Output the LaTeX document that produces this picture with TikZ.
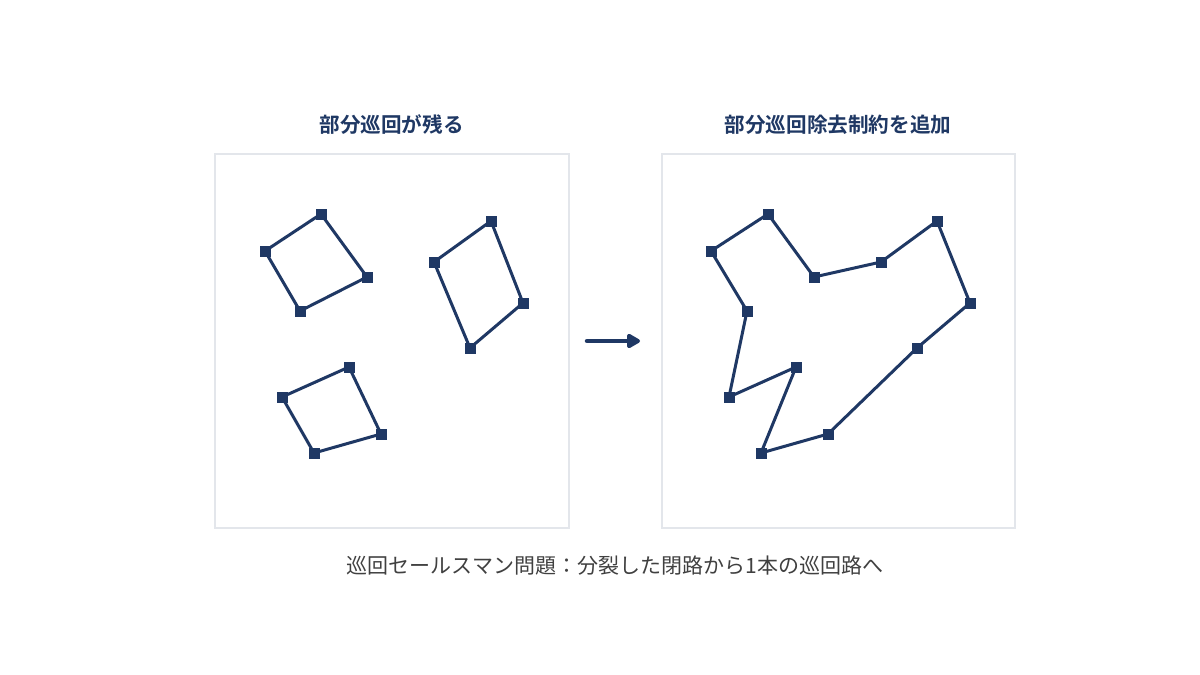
\documentclass[tikz,border=0pt]{standalone}
\usepackage{fontspec}
\setmainfont{Noto Sans CJK JP}
\newfontfamily\jpb{Noto Sans CJK JP Bold}
\usetikzlibrary{arrows.meta}
\definecolor{navy}{HTML}{1F3864}
\definecolor{panel}{HTML}{E3E6EB}
\definecolor{captxt}{HTML}{404040}
\tikzset{
  pt/.style={fill=navy, minimum size=11pt, inner sep=0pt, outer sep=0pt},
  tourline/.style={draw=navy, line width=3pt, line join=round},
  panelbox/.style={draw=panel, line width=2pt, fill=white},
  ttl/.style={text=navy, font=\jpb\fontsize{20.6}{24}\selectfont, anchor=center},
  captext/.style={text=captxt, font=\fontsize{21}{25}\selectfont, anchor=center}
}
\begin{document}
\begin{tikzpicture}[x=1pt,y=-1pt]
\useasboundingbox (0,0) rectangle (1200,675);
\fill[white] (0,0) rectangle (1200,675);
% panels
\draw[panelbox] (215,154) rectangle (569,528);
\draw[panelbox] (662,154) rectangle (1015,528);
% titles
\node[ttl] (t1) at (391.5,125) {部分巡回が残る};
\node[ttl] (t2) at (838,125) {部分巡回除去制約を追加};
% left nodes
\node[pt] (a1) at (265,251) {};
\node[pt] (a2) at (321,214) {};
\node[pt] (a3) at (367,277) {};
\node[pt] (a4) at (300,311) {};
\node[pt] (b1) at (434,262) {};
\node[pt] (b2) at (491,221) {};
\node[pt] (b3) at (523,303) {};
\node[pt] (b4) at (470,348) {};
\node[pt] (c1) at (282,397) {};
\node[pt] (c2) at (349,367) {};
\node[pt] (c3) at (381,434) {};
\node[pt] (c4) at (314,453) {};
\draw[tourline] (a1.center) -- (a2.center) -- (a3.center) -- (a4.center) -- cycle;
\draw[tourline] (b1.center) -- (b2.center) -- (b3.center) -- (b4.center) -- cycle;
\draw[tourline] (c1.center) -- (c2.center) -- (c3.center) -- (c4.center) -- cycle;
% right nodes
\node[pt] (r1) at (711,251) {};
\node[pt] (r2) at (768,214) {};
\node[pt] (r3) at (814,277) {};
\node[pt] (r4) at (747,311) {};
\node[pt] (s1) at (881,262) {};
\node[pt] (s2) at (937,221) {};
\node[pt] (s3) at (970,303) {};
\node[pt] (s4) at (917,348) {};
\node[pt] (u1) at (729,397) {};
\node[pt] (u2) at (796,367) {};
\node[pt] (u3) at (828,434) {};
\node[pt] (u4) at (761,453) {};
\draw[tourline] (r1.center) -- (r2.center) -- (r3.center) -- (s1.center) -- (s2.center) -- (s3.center) -- (s4.center) -- (u3.center) -- (u4.center) -- (u2.center) -- (u1.center) -- (r4.center) -- cycle;
% squares on top
\foreach \n in {a1,a2,a3,a4,b1,b2,b3,b4,c1,c2,c3,c4,r1,r2,r3,r4,s1,s2,s3,s4,u1,u2,u3,u4}
  \fill[navy] ([xshift=-5.5pt,yshift=5.5pt]\n.center) rectangle ([xshift=5.5pt,yshift=-5.5pt]\n.center);
% arrow
\coordinate (arS) at (587,341);
\coordinate (arE) at (640,341);
\draw[navy, line width=4.5pt, line cap=round, -{Triangle[length=15pt,width=16pt,round]}] (arS) -- (arE);
% caption
\node[captext] (capn) at (615,566) {巡回セールスマン問題：分裂した閉路から1本の巡回路へ};
\end{tikzpicture}
\end{document}
